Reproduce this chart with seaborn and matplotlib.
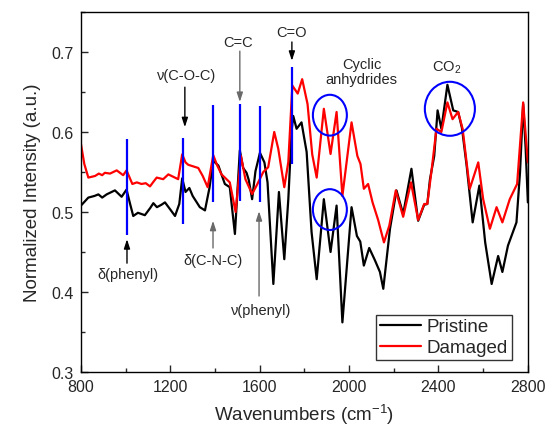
import numpy as np
import pandas as pd
import matplotlib
matplotlib.use("Agg")
import matplotlib.pyplot as plt
from matplotlib.patches import Ellipse
import seaborn as sns

# spectra
pristine_wn = [800, 833, 860, 878, 895, 915, 952, 982, 1004, 1020, 1034, 1055, 1086, 1110, 1124,
               1140, 1160, 1176, 1200, 1221, 1240, 1253, 1268, 1285, 1300, 1332, 1355, 1375, 1392,
               1415, 1444, 1466, 1489, 1511, 1526, 1541, 1551, 1566, 1581, 1601, 1621, 1635, 1661,
               1686, 1710, 1728, 1743, 1750, 1765, 1787, 1810, 1832, 1855, 1887, 1917, 1944, 1970,
               2011, 2035, 2050, 2066, 2090, 2115, 2138, 2153, 2183, 2212, 2242, 2279, 2309, 2336,
               2350, 2362, 2381, 2396, 2413, 2440, 2466, 2488, 2505, 2526, 2553, 2583, 2609, 2638,
               2667, 2686, 2711, 2749, 2765, 2779, 2790, 2800]
pristine_int = [0.508, 0.518, 0.520, 0.522, 0.518, 0.522, 0.527, 0.519, 0.528, 0.510, 0.495, 0.499,
                0.496, 0.505, 0.511, 0.506, 0.509, 0.512, 0.503, 0.495, 0.510, 0.542, 0.525, 0.530,
                0.520, 0.506, 0.502, 0.530, 0.564, 0.558, 0.535, 0.531, 0.4725, 0.577, 0.555, 0.549,
                0.540, 0.516, 0.551, 0.574, 0.562, 0.537, 0.410, 0.525, 0.441, 0.516, 0.602, 0.620,
                0.604, 0.612, 0.575, 0.475, 0.416, 0.516, 0.450, 0.508, 0.362, 0.506, 0.470, 0.463,
                0.433, 0.455, 0.440, 0.425, 0.404, 0.479, 0.527, 0.4975, 0.554, 0.489, 0.509, 0.510,
                0.541, 0.570, 0.627, 0.604, 0.659, 0.627, 0.625, 0.605, 0.558, 0.487, 0.533, 0.462,
                0.410, 0.445, 0.425, 0.458, 0.487, 0.550, 0.635, 0.580, 0.512]

damaged_wn = [800, 815, 833, 863, 880, 895, 907, 930, 960, 989, 1004, 1030, 1050, 1071, 1090, 1109,
              1125, 1139, 1168, 1191, 1235, 1253, 1268, 1280, 1325, 1345, 1367, 1392, 1410, 1429,
              1444, 1466, 1492, 1516, 1536, 1566, 1586, 1616, 1638, 1665, 1683, 1710, 1728, 1746,
              1770, 1790, 1814, 1835, 1855, 1887, 1917, 1944, 1970, 2011, 2037, 2051, 2066, 2085,
              2105, 2130, 2156, 2180, 2209, 2242, 2277, 2309, 2336, 2350, 2370, 2391, 2413, 2440,
              2463, 2488, 2508, 2540, 2578, 2600, 2630, 2660, 2686, 2719, 2752, 2779, 2800]
damaged_int = [0.585, 0.560, 0.543, 0.545, 0.548, 0.546, 0.549, 0.548, 0.552, 0.546, 0.552, 0.535,
               0.537, 0.535, 0.536, 0.532, 0.538, 0.543, 0.541, 0.547, 0.541, 0.572, 0.562, 0.559,
               0.555, 0.545, 0.531, 0.571, 0.558, 0.547, 0.543, 0.537, 0.500, 0.570, 0.541, 0.5225,
               0.533, 0.550, 0.556, 0.600, 0.579, 0.531, 0.5625, 0.658, 0.648, 0.666, 0.635, 0.572,
               0.543, 0.629, 0.5725, 0.625, 0.520, 0.612, 0.570, 0.560, 0.529, 0.535, 0.512, 0.490,
               0.462, 0.483, 0.527, 0.494, 0.537, 0.490, 0.510, 0.510, 0.554, 0.604, 0.600, 0.637,
               0.616, 0.625, 0.604, 0.529, 0.562, 0.516, 0.479, 0.506, 0.487, 0.516, 0.535, 0.637,
               0.562]

# blue marker bars (position, bottom, top)
bar_wn = [1007, 1258, 1392, 1511, 1601, 1743]
bar_lo = [0.471, 0.485, 0.5125, 0.514, 0.512, 0.560]
bar_hi = [0.591, 0.593, 0.634, 0.635, 0.633, 0.681]

# blue circles (centre wn, centre y, width, height)
circ_wn = [1914, 1914, 2451]
circ_y = [0.621, 0.503, 0.629]
circ_w = [152, 152, 224]
circ_h = [0.051, 0.051, 0.0675]

sns.set_style("ticks")
plt.rcParams["font.family"] = ["Liberation Sans", "DejaVu Sans"]
plt.rcParams["mathtext.fontset"] = "custom"
plt.rcParams["mathtext.rm"] = "Liberation Sans"
plt.rcParams["mathtext.it"] = "Liberation Sans:italic"

df = pd.concat([
    pd.DataFrame({"wn": pristine_wn, "y": pristine_int, "sample": "Pristine"}),
    pd.DataFrame({"wn": damaged_wn, "y": damaged_int, "sample": "Damaged"}),
])

fig = plt.figure(figsize=(5.47, 4.27), dpi=100)
ax = fig.add_axes([0.148, 0.1265, 0.817, 0.8431])

sns.lineplot(data=df, x="wn", y="y", hue="sample", palette={"Pristine": "black", "Damaged": "red"},
             linewidth=1.6, ax=ax, sort=False)

ax.vlines(bar_wn, bar_lo, bar_hi, colors="#0000ff", linewidth=1.6, zorder=3)
for cx, cy, w, h in zip(circ_wn, circ_y, circ_w, circ_h):
    ax.add_patch(Ellipse((cx, cy), w, h, fill=False, edgecolor="#0000ff", linewidth=1.5, zorder=4))

# annotations
fs = 10.5
def note(xy, xytext, color="black"):
    ax.annotate("", xy=xy, xytext=xytext,
                arrowprops=dict(arrowstyle="-|>,head_length=0.55,head_width=0.18", color=color, lw=1,
                                shrinkA=0, shrinkB=0))

ax.text(1274, 0.671, "ν(C-O-C)", ha="center", va="center", fontsize=fs)
note((1265, 0.606), (1265, 0.656))
ax.text(1502, 0.7125, "C=C", ha="center", va="center", fontsize=fs)
note((1511, 0.6375), (1511, 0.701), color="dimgray")
ax.text(1744, 0.725, "C=O", ha="center", va="center", fontsize=fs)
note((1744, 0.689), (1744, 0.7125))
ax.text(2057, 0.6756, "Cyclic\nanhydrides", ha="center", va="center", fontsize=fs, linespacing=1.1)
ax.text(2438, 0.681, r"CO$_\mathregular{2}$", ha="center", va="center", fontsize=fs)
ax.text(1010, 0.4225, "δ(phenyl)", ha="center", va="center", fontsize=fs)
note((1006, 0.466), (1006, 0.436))
ax.text(1391, 0.44, "δ(C-N-C)", ha="center", va="center", fontsize=fs)
note((1391, 0.489), (1391, 0.455), color="dimgray")
ax.text(1605, 0.3775, "ν(phenyl)", ha="center", va="center", fontsize=fs)
note((1597, 0.501), (1597, 0.395), color="dimgray")

ax.set_xlim(800, 2800)
ax.set_ylim(0.3, 0.75)
ax.set_xticks(np.arange(800, 2801, 400))
ax.set_xticks(np.arange(1000, 2800, 400), minor=True)
ax.set_yticks([0.3, 0.4, 0.5, 0.6, 0.7])
ax.set_yticks([0.35, 0.45, 0.55, 0.65, 0.75], minor=True)
ax.set_yticklabels(["0.3", "0.4", "0.5", "0.6", "0.7"])
ax.tick_params(which="major", direction="in", length=5, width=1, labelsize=11.5, pad=5)
ax.tick_params(which="minor", direction="in", length=3, width=1)
for s in ax.spines.values():
    s.set_visible(True)
    s.set_linewidth(1)
    s.set_color("black")

ax.set_xlabel(r"Wavenumbers (cm$^\mathregular{-1}$)", fontsize=13.5, labelpad=6)
ax.set_ylabel("Normalized Intensity (a.u.)", fontsize=13.5, labelpad=8)

leg = ax.legend(loc="lower right", bbox_to_anchor=(0.964, 0.033), borderaxespad=0, fontsize=13.5,
                frameon=True, fancybox=False, edgecolor="black", handlelength=2.2,
                borderpad=0.2, labelspacing=0.2, handletextpad=0.3)
leg.get_frame().set_linewidth(1)
leg.set_title(None)

fig.savefig("out.png", dpi=100)
